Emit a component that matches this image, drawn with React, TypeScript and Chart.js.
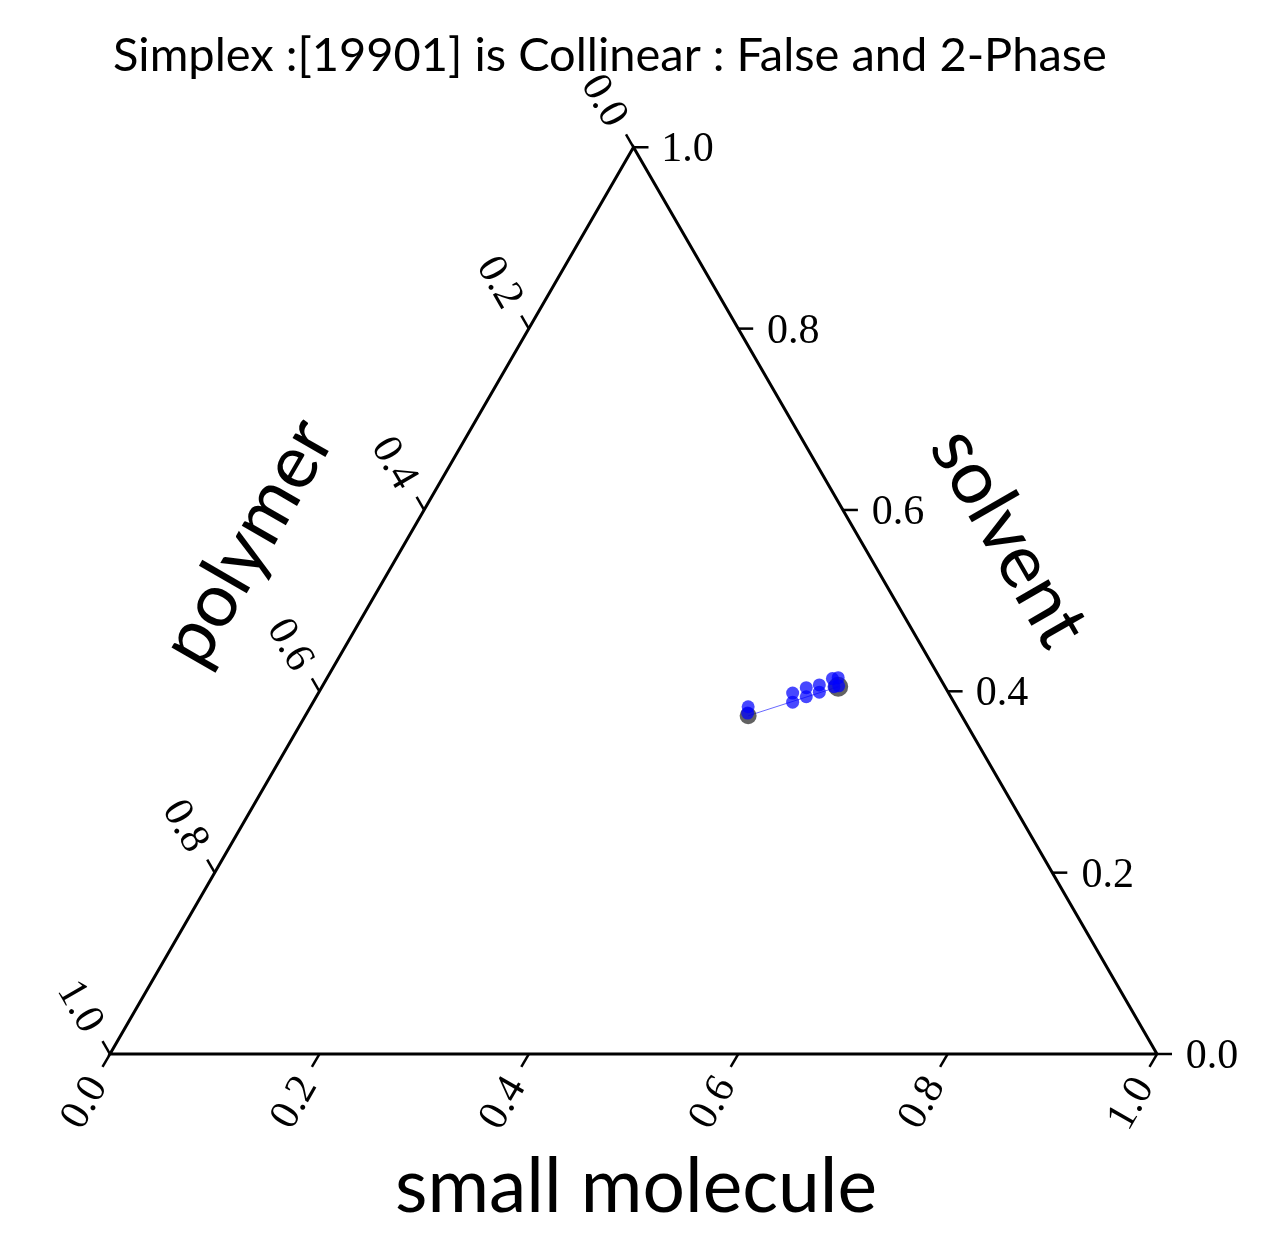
import { useEffect, useRef } from 'react';
import { Chart, registerables } from 'chart.js';

Chart.register(...registerables);

// ---- data -----------------------------------------------------------
const titleText = 'Simplex :[19901] is Collinear : False and 2-Phase';
const bottomAxisLabel = 'small molecule';
const rightAxisLabel = 'solvent';
const leftAxisLabel = 'polymer';

const tickValues = [0, 0.2, 0.4, 0.6, 0.8, 1.0];
const tickLabels = ['0.0', '0.2', '0.4', '0.6', '0.8', '1.0'];

// triangle corners as compositions [small molecule, solvent, polymer]
const boundarySmall = [1, 0, 0, 1];
const boundarySolvent = [0, 1, 0, 0];
const boundaryPolymer = [0, 0, 1, 0];

// sampled phase compositions (blue)
const phaseSmall = [0.418, 0.421, 0.453, 0.458, 0.463, 0.468, 0.474, 0.478, 0.483, 0.488, 0.489, 0.493];
const phaseSolvent = [0.383, 0.376, 0.398, 0.388, 0.404, 0.394, 0.407, 0.399, 0.414, 0.415, 0.405, 0.406];
const phasePolymer = [0.199, 0.203, 0.149, 0.154, 0.133, 0.138, 0.119, 0.123, 0.103, 0.097, 0.106, 0.101];

// simplex vertices (grey)
const vertexSmall = [0.423, 0.493];
const vertexSolvent = [0.373, 0.405];
const vertexPolymer = [0.204, 0.102];

// ---- helpers --------------------------------------------------------
const S3 = Math.sqrt(3) / 2;
function toXY(a: number, b: number, c: number) {
  const s = a + b + c || 1;
  const aa = a / s;
  const bb = b / s;
  return { x: aa + bb / 2, y: bb * S3 };
}
function series(a: number[], b: number[], c: number[]) {
  return a.map((v, i) => toXY(v, b[i], c[i]));
}

const TICK_FONT = '"Liberation Serif", "DejaVu Serif", serif';
const SANS_FONT = 'Lato, "Noto Sans", sans-serif';

function drawCentered(ctx: CanvasRenderingContext2D, text: string, cx: number, cy: number, rot: number) {
  ctx.save();
  ctx.translate(cx, cy);
  ctx.rotate(rot);
  ctx.textAlign = 'left';
  ctx.textBaseline = 'alphabetic';
  const m = ctx.measureText(text);
  const w = m.actualBoundingBoxRight + m.actualBoundingBoxLeft;
  const dy = (m.actualBoundingBoxAscent - m.actualBoundingBoxDescent) / 2;
  ctx.fillText(text, -w / 2 + m.actualBoundingBoxLeft, dy);
  ctx.restore();
}

function fitSize(ctx: CanvasRenderingContext2D, text: string, family: string, target: number) {
  ctx.font = `100px ${family}`;
  const w = ctx.measureText(text).width;
  return (100 * target) / w;
}

const ternaryPlugin = {
  id: 'ternaryDecor',
  afterDatasetsDraw(chart: any) {
    const ctx: CanvasRenderingContext2D = chart.ctx;
    const xs = chart.scales.x;
    const ys = chart.scales.y;
    const px = (p: { x: number; y: number }) => [xs.getPixelForValue(p.x), ys.getPixelForValue(p.y)];
    const tickLen = 15;
    const labelDist = 55;
    ctx.save();
    ctx.strokeStyle = '#000';
    ctx.fillStyle = '#000';
    ctx.lineWidth = 2.5;
    ctx.lineCap = 'butt';
    ctx.font = `42px ${TICK_FONT}`;

    const axes = [
      { at: (t: number) => toXY(t, 0, 1 - t), dir: [-0.5, S3], rot: -Math.PI / 3 },
      { at: (t: number) => toXY(1 - t, t, 0), dir: [1, 0], rot: 0 },
      { at: (t: number) => toXY(0, 1 - t, t), dir: [-0.5, -S3], rot: Math.PI / 3 },
    ];
    axes.forEach((ax) => {
      tickValues.forEach((t, i) => {
        const [x0, y0] = px(ax.at(t));
        ctx.beginPath();
        ctx.moveTo(x0, y0);
        ctx.lineTo(x0 + ax.dir[0] * tickLen, y0 + ax.dir[1] * tickLen);
        ctx.stroke();
        drawCentered(ctx, tickLabels[i], x0 + ax.dir[0] * labelDist, y0 + ax.dir[1] * labelDist, ax.rot);
      });
    });

    // title
    const tSize = fitSize(ctx, titleText, SANS_FONT, 994);
    ctx.font = `${tSize}px ${SANS_FONT}`;
    ctx.textAlign = 'center';
    ctx.textBaseline = 'alphabetic';
    ctx.fillText(titleText, 610, 71);

    // axis labels
    const aSize = fitSize(ctx, bottomAxisLabel, SANS_FONT, 482);
    ctx.font = `${aSize}px ${SANS_FONT}`;
    ctx.fillText(bottomAxisLabel, 636, 1212);
    drawCentered(ctx, leftAxisLabel, 252, 542, -Math.PI / 3);
    drawCentered(ctx, rightAxisLabel, 1012, 537, Math.PI / 3);
    ctx.restore();
  },
};

export default function App() {
  const ref = useRef<HTMLCanvasElement>(null);
  useEffect(() => {
    document.body.style.margin = '0';
    const canvas = ref.current!;
    const chart = new Chart(canvas, {
      type: 'scatter',
      data: {
        datasets: [
          {
            label: 'boundary',
            data: series(boundarySmall, boundarySolvent, boundaryPolymer),
            showLine: true,
            borderColor: '#000',
            borderWidth: 3,
            pointRadius: 0,
            fill: false,
            order: 4,
          },
          {
            label: 'tie line',
            data: series(vertexSmall, vertexSolvent, vertexPolymer),
            showLine: true,
            borderColor: 'rgba(40,40,255,0.7)',
            borderWidth: 1,
            pointRadius: 0,
            order: 3,
          },
          {
            label: 'vertices',
            data: series(vertexSmall, vertexSolvent, vertexPolymer),
            pointRadius: [8.5, 10],
            pointBackgroundColor: 'rgba(45,45,45,0.75)',
            pointBorderWidth: 0,
            borderWidth: 0,
            order: 2,
          },
          {
            label: 'phases',
            data: series(phaseSmall, phaseSolvent, phasePolymer),
            pointRadius: 6.5,
            pointBackgroundColor: 'rgba(0,0,255,0.72)',
            pointBorderWidth: 0,
            borderWidth: 0,
            order: 1,
          },
        ],
      },
      options: {
        responsive: false,
        animation: false,
        devicePixelRatio: 1,
        layout: { padding: 0, autoPadding: false },
        plugins: { legend: { display: false }, tooltip: { enabled: false }, title: { display: false } },
        scales: {
          x: { type: 'linear', display: false, min: -110 / 1047, max: 1160 / 1047 },
          y: { type: 'linear', display: false, min: -204 / 1047, max: 1054 / 1047 },
        },
      },
      plugins: [ternaryPlugin],
    });
    return () => chart.destroy();
  }, []);
  return (
    <div style={{ position: 'absolute', left: 0, top: 0, width: 1270, height: 1258, background: '#fff' }}>
      <canvas ref={ref} width={1270} height={1258} style={{ display: 'block', width: 1270, height: 1258 }} />
    </div>
  );
}
